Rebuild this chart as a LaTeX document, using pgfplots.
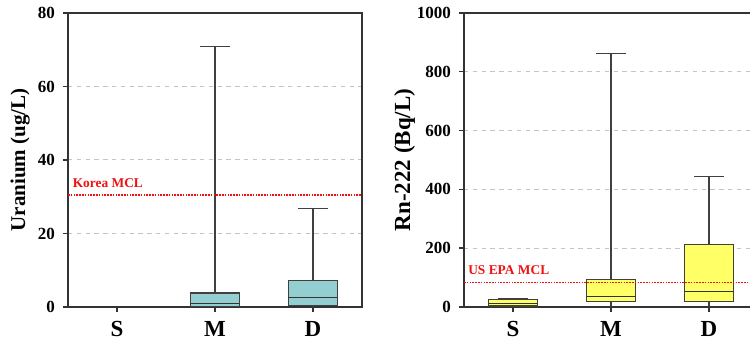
\documentclass[border=0pt]{standalone}
\usepackage{pgfplots}
\pgfplotsset{compat=1.18}
\usepackage{fontspec}
\setmainfont{Liberation Serif}
\definecolor{tealbox}{HTML}{93CFD0}
\definecolor{yelbox}{HTML}{FFFF66}
\definecolor{gridgray}{HTML}{C4C4C4}
\definecolor{mclred}{HTML}{F01010}
\pgfplotsset{
  panel/.style={
    scale only axis, width=147pt, height=147pt,
    xmin=-0.5, xmax=2.5,
    xtick={0,1,2}, xticklabels={S,M,D},
    xtick pos=left, ytick pos=left,
    tick align=outside, major tick length=2.5pt,
    axis line style={line width=0.8pt, black!80},
    major tick style={line width=0.7pt, black!80},
    ymajorgrids, grid style={gridgray, dash pattern=on 2.2pt off 2.2pt, line width=0.5pt},
    /pgf/number format/assume math mode=true,
    /pgf/number format/1000 sep={},
    yticklabel style={font=\fontsize{8.5}{9}\selectfont\bfseries, xshift=-0.5pt},
    xticklabel style={font=\fontsize{11.5}{12}\selectfont\bfseries, yshift=-1pt},
  },
}
% #1 position, #2 lower whisker, #3 lower quartile, #4 median, #5 upper quartile, #6 upper whisker, #7 fill
\newcommand{\bx}[7]{%
  \pgfmathsetmacro{\xl}{#1-0.25}\pgfmathsetmacro{\xr}{#1+0.25}%
  \pgfmathsetmacro{\cl}{#1-0.15}\pgfmathsetmacro{\cr}{#1+0.15}%
  \addplot[black!75, line width=0.55pt] coordinates {(#1,#2) (#1,#6)};
  \addplot[black!75, line width=0.55pt] coordinates {(\cl,#6) (\cr,#6)};
  \addplot[black!75, line width=0.55pt, fill=#7] coordinates {(\xl,#3) (\xr,#3) (\xr,#5) (\xl,#5)} -- cycle;
  \addplot[black!80, line width=0.6pt] coordinates {(\xl,#4) (\xr,#4)};
}
\begin{document}
\begin{tikzpicture}
\begin{axis}[panel, at={(0pt,0pt)},
  ymin=0, ymax=80, ytick={0,20,40,60,80},
  every axis y label/.style={at={(axis description cs:-0.163,0.5)}, rotate=90, anchor=center, font=\fontsize{10.5}{11}\selectfont\bfseries},
  ylabel={Uranium (ug/L)}]
\bx{0}{0.05}{0.08}{0.12}{0.18}{0.2}{tealbox}
\bx{1}{0}{0.2}{1.0}{3.8}{70.8}{tealbox}
\bx{2}{0}{0.3}{2.5}{7.3}{26.9}{tealbox}
\addplot[mclred, line width=0.6pt, dash pattern=on 0.8pt off 0.6pt] coordinates {(-0.5,30.5) (2.5,30.5)};
\node[anchor=south west, inner sep=0pt, text=mclred, font=\fontsize{6.7}{7}\selectfont\bfseries] at (axis cs:-0.455,32.3) {Korea MCL};
\end{axis}
\begin{axis}[panel, at={(198pt,0pt)},
  ymin=0, ymax=1000, ytick={0,200,400,600,800,1000},
  every axis y label/.style={at={(axis description cs:-0.2017,0.5)}, rotate=90, anchor=center, font=\fontsize{11.5}{12}\selectfont\bfseries},
  ylabel={Rn-222 (Bq/L)}]
\bx{0}{1}{3.5}{13}{27}{30}{yelbox}
\bx{1}{3}{20}{35}{92}{863}{yelbox}
\bx{2}{3}{18}{54}{213}{443}{yelbox}
\addplot[mclred, line width=0.6pt, dash pattern=on 0.8pt off 0.6pt] coordinates {(-0.5,83) (2.5,83)};
\node[anchor=south west, inner sep=0pt, text=mclred, font=\fontsize{6.7}{7}\selectfont\bfseries] at (axis cs:-0.46,109) {US EPA MCL};
\end{axis}
\pgfresetboundingbox
\path[use as bounding box] (-34pt,-17.5pt) rectangle (341pt,153.5pt);
\end{tikzpicture}
\end{document}
